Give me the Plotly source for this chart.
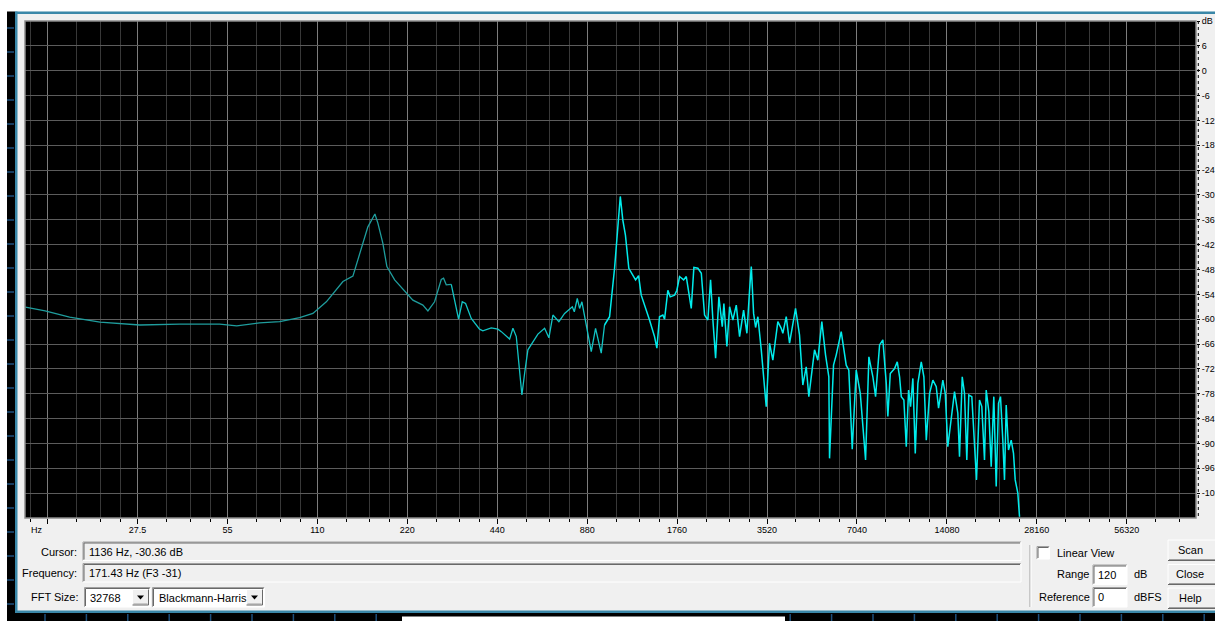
import numpy as np
import plotly.graph_objects as go

# ---- spectrum data: frequency (Hz) and level (dB) ----
freq_hz = [
    11.6, 13.5, 16.3, 20.6, 28.0, 38.1, 51.8, 59.1, 70.5, 82.3,
    96.0, 106.3, 117.9, 134.0, 144.7, 152.4, 162.4, 171.43, 175.4, 182.3,
    188.0, 199.6, 218.3, 229.7, 248.1, 257.9, 271.5, 285.9, 291.0, 297.1,
    308.8, 316.8, 326.7, 336.1, 344.8, 360.2, 384.0, 393.9, 420.2, 442.4,
    454.1, 484.1, 496.6, 509.7, 520.0, 532.2, 543.4, 557.4, 602.1, 634.0,
    655.3, 675.8, 707.8, 739.6, 784.8, 797.0, 815.6, 830.3, 845.1, 908.3,
    938.9, 980.9, 1006, 1046, 1087, 1136, 1158, 1182, 1213, 1278,
    1308, 1335, 1423, 1479, 1506, 1537, 1577, 1598, 1639, 1669,
    1726, 1757, 1794, 1851, 1889, 1963, 2003, 2066, 2121, 2175,
    2231, 2278, 2319, 2368, 2429, 2493, 2524, 2583, 2638, 2705,
    2777, 2849, 2938, 3014, 3077, 3118, 3174, 3223, 3280, 3367,
    3498, 3588, 3681, 3729, 3826, 3927, 3976, 4081, 4187, 4385,
    4521, 4638, 4761, 4858, 5076, 5207, 5369, 5525, 5667, 5698,
    5876, 6000, 6235, 6480, 6611, 6787, 6999, 7222, 7522, 7717,
    7958, 8125, 8380, 8595, 8823, 8932, 9099, 9405, 9603, 9776,
    9905, 10105, 10293, 10478, 10640, 10830, 11032, 11256, 11554, 11789,
    12009, 12319, 12635, 12970, 13202, 13645, 13900, 14178, 14555, 14929,
    15313, 15516, 15843, 16124, 16413, 16668, 17058, 17417, 17687, 18099,
    18424, 18811, 19060, 19446, 19808, 20209, 20585, 20954, 21279, 21659,
    21945, 22235, 22634, 23108, 23522, 23832, 24316, 24638,
]
level_db = [
    -57.1, -58.0, -59.5, -60.7, -61.4, -61.2, -61.2, -61.6, -60.9, -60.6,
    -59.6, -58.6, -55.8, -50.9, -49.6, -44.5, -37.7, -34.6, -36.8, -41.7,
    -47.3, -50.5, -53.7, -55.4, -56.6, -58.0, -55.8, -50.4, -50.1, -51.7,
    -51.6, -55.4, -60.0, -55.8, -56.2, -59.8, -62.4, -62.8, -62.1, -62.4,
    -63.0, -64.8, -62.2, -64.2, -70.6, -78.3, -73.1, -67.4, -63.6, -62.2,
    -64.5, -59.0, -60.6, -58.6, -57.0, -58.2, -55.0, -57.4, -55.8, -67.8,
    -62.2, -68.2, -61.4, -59.4, -47.7, -30.36, -36.0, -39.7, -47.7, -50.5,
    -49.5, -54.2, -60.2, -64.2, -67.0, -59.4, -59.0, -60.0, -53.0, -54.6,
    -54.2, -53.0, -49.7, -50.5, -49.7, -57.4, -47.5, -47.7, -48.9, -59.0,
    -60.2, -50.5, -60.2, -69.4, -54.6, -61.8, -56.2, -66.6, -57.0, -60.2,
    -56.6, -64.2, -57.8, -63.4, -53.0, -47.3, -58.6, -62.0, -59.4, -67.4,
    -81.1, -65.8, -69.9, -66.6, -60.6, -62.2, -63.4, -59.4, -65.8, -57.4,
    -63.8, -75.9, -71.5, -78.7, -67.4, -69.9, -60.6, -68.6, -73.9, -93.6,
    -71.1, -68.6, -63.0, -71.1, -72.3, -91.4, -72.3, -77.9, -94.0, -69.1,
    -73.9, -78.7, -66.2, -65.0, -75.5, -83.5, -73.1, -71.9, -70.3, -73.9,
    -78.7, -79.5, -90.8, -77.1, -81.1, -74.3, -92.4, -75.5, -70.3, -73.9,
    -89.2, -77.9, -74.7, -76.3, -81.5, -74.7, -77.9, -90.8, -84.3, -77.5,
    -82.7, -93.2, -73.9, -77.9, -94.0, -78.3, -78.7, -89.6, -98.8, -79.5,
    -81.1, -94.0, -77.1, -82.3, -95.6, -78.7, -100.4, -80.3, -78.7, -89.2,
    -98.8, -80.7, -91.6, -89.2, -92.4, -98.8, -102.0, -107.7,
]

# ---- axis ticks ----
octave_hz = [13.75, 27.5, 55, 110, 220, 440, 880, 1760, 3520, 7040, 14080, 28160, 56320]
octave_text = ["", "27.5", "55", "110", "220", "440", "880", "1760", "3520",
               "7040", "14080", "28160", "56320"]
db_ticks = [12, 6, 0, -6, -12, -18, -24, -30, -36, -42, -48, -54, -60, -66,
            -72, -78, -84, -90, -96, -102]
db_text = ["dB", "6", "0", "-6", "-12", "-18", "-24", "-30", "-36", "-42", "-48",
           "-54", "-60", "-66", "-72", "-78", "-84", "-90", "-96", "-102"]

# ---- dialog readouts ----
cursor_text = "1136 Hz, -30.36 dB"
frequency_text = "171.43 Hz (F3 -31)"
fft_size = "32768"
window_name = "Blackmann-Harris"
range_db = "120"
reference_dbfs = "0"

W, H = 1215, 621
PL, PR, PT, PB = 25, 1196, 21, 518          # plot area in pixels
FONT = "Liberation Sans, Arial, sans-serif"


def fx(x):
    return (x - PL) / (PR - PL)


def fy(y):
    return (PB - y) / (PB - PT)


shapes = []
annotations = []


def rect(x0, y0, x1, y1, fill="rgba(0,0,0,0)", line=None, lw=1):
    shapes.append(dict(type="rect", xref="paper", yref="paper",
                       x0=fx(x0), x1=fx(x1), y0=fy(y1), y1=fy(y0),
                       fillcolor=fill,
                       line=dict(color=line or "rgba(0,0,0,0)", width=lw if line else 0),
                       layer="above"))


def seg(x0, y0, x1, y1, color, lw=1, dash="solid"):
    shapes.append(dict(type="line", xref="paper", yref="paper",
                       x0=fx(x0), x1=fx(x1), y0=fy(y0), y1=fy(y1),
                       line=dict(color=color, width=lw, dash=dash), layer="above"))


def sunken(x0, y0, x1, y1, fill):
    rect(x0, y0, x1, y1, fill=fill)
    seg(x0, y0, x1, y0, "#a0a0a0")
    seg(x0, y0, x0, y1, "#a0a0a0")
    seg(x0 + 1, y0 + 1, x1 - 1, y0 + 1, "#696969")
    seg(x0 + 1, y0 + 1, x0 + 1, y1 - 1, "#696969")
    seg(x0, y1, x1, y1, "#ffffff")
    seg(x1, y0, x1, y1, "#ffffff")


def raised(x0, y0, x1, y1, fill="#f0f0f0"):
    rect(x0, y0, x1, y1, fill=fill)
    seg(x0, y0, x1, y0, "#ffffff")
    seg(x0, y0, x0, y1, "#ffffff")
    seg(x0, y1, x1, y1, "#696969")
    seg(x1, y0, x1, y1, "#696969")
    seg(x0 + 1, y1 - 1, x1 - 1, y1 - 1, "#a0a0a0")


def text(x, y, s, anchor="left", size=11):
    annotations.append(dict(x=fx(x), y=fy(y), xref="paper", yref="paper", text=s,
                            showarrow=False, xanchor=anchor, yanchor="middle",
                            font=dict(family=FONT, size=size, color="#000000")))


def arrow(cx, cy):
    x0, x1, xm = fx(cx - 3.5), fx(cx + 3.5), fx(cx)
    ya, yb = fy(cy - 2), fy(cy + 2)
    shapes.append(dict(type="path", xref="paper", yref="paper",
                       path=f"M {x0} {ya} L {x1} {ya} L {xm} {yb} Z",
                       fillcolor="#000000", line=dict(width=0), layer="above"))


# ---- window chrome ----
rect(0, 0, W, 11.5, fill="#ffffff")
rect(0, 0, 7, H, fill="#ffffff")
rect(7, 11.5, 15, H, fill="#000000")
rect(7, 613, W, H, fill="#000000")
rect(402, 616.5, 785, H, fill="#ffffff")
for k in range(25):
    yb = 28 + 24.0 * k
    if yb < 612:
        seg(7, yb, 14, yb, "#1d4f7c", lw=1.5)
for k in range(30):
    xb = 45 + 41.4 * k
    if 17 < xb < 400 or 785 < xb < W:
        seg(xb, 614, xb, H, "#1d4f7c", lw=1.5)
rect(15, 11.5, 17.5, 613, fill="#3a87a8")
rect(15, 11.5, W, 14, fill="#3a87a8")
rect(15, 610.5, W, 613, fill="#3a87a8")

# plot frame and dB scale rule
rect(PL, PT, PR, PB, line="#8c8c8c", lw=1.5)
seg(1198.3, PT, 1198.3, PB, "#000000", lw=1, dash="dot")
text(28.5, 529.5, "Hz", size=9)

# ---- readout fields ----
text(79, 552, "Cursor:", anchor="right")
sunken(83, 542, 1021, 560.5, "#f0f0f0")
text(87, 551.5, cursor_text)
text(79, 573, "Frequency:", anchor="right")
sunken(83, 563.5, 1021, 582, "#f0f0f0")
text(87, 573, frequency_text)

text(80, 597.5, "FFT Size:", anchor="right")
sunken(84.5, 587.5, 150.5, 607, "#ffffff")
text(88, 598, fft_size)
raised(132.5, 589.5, 148.5, 605)
arrow(140.5, 597.5)
sunken(152.5, 587.5, 264.5, 607, "#ffffff")
text(156.5, 598, window_name)
raised(246.5, 589.5, 262.5, 605)
arrow(254.5, 597.5)

# ---- view options ----
seg(1030, 545, 1030, 607, "#a0a0a0")
seg(1031, 545, 1031, 607, "#ffffff")
sunken(1037, 546.5, 1049.5, 559, "#ffffff")
text(1055, 552.5, "Linear View")
text(1055, 574, "Range")
sunken(1093, 565, 1127, 584.5, "#ffffff")
text(1095.5, 574.5, range_db)
text(1132, 574, "dB")
text(1036.5, 597.5, "Reference")
sunken(1093, 587.5, 1127, 607, "#ffffff")
text(1095.5, 597.5, reference_dbfs)
text(1132, 597.5, "dBFS")

raised(1168, 540, 1222, 560.5)
text(1190, 549.5, "Scan", anchor="center")
raised(1168, 564.5, 1222, 584.5)
text(1190, 574, "Close", anchor="center")
raised(1168, 588, 1222, 608.5)
text(1190, 598, "Help", anchor="center")

# ---- spectrum trace ----
fig = go.Figure()
f = np.array(freq_hz)
v = np.array(level_db)
bands = [(0, 300, "#1f9d9d", 1.3), (300, 1000, "#12c4c4", 1.3), (1000, 1e6, "#00ecec", 1.5)]
for lo, hi, col, lw in bands:
    idx = np.where((f >= lo) & (f < hi))[0]
    i0, i1 = idx[0], min(idx[-1] + 1, len(f) - 1)
    fig.add_trace(go.Scatter(x=f[i0:i1 + 1], y=v[i0:i1 + 1], mode="lines",
                             line=dict(color=col, width=lw),
                             hoverinfo="skip", showlegend=False))

minor_hz = [b * m for b in [6.875 * 2 ** k for k in range(15)] for m in (1.25, 1.5, 1.75)]
minor_hz = [m for m in minor_hz if 11.6 < m < 96000]

fig.update_layout(
    width=W, height=H,
    margin=dict(l=PL, r=W - PR, t=PT, b=H - PB, pad=0),
    paper_bgcolor="#f0f0f0",
    plot_bgcolor="#000000",
    shapes=shapes,
    annotations=annotations,
    showlegend=False,
    xaxis=dict(
        type="log",
        range=[np.log10(11.56), np.log10(96000)],
        tickmode="array", tickvals=octave_hz, ticktext=octave_text,
        showgrid=True, gridcolor="#7d7d7d", gridwidth=1,
        ticks="outside", ticklen=5, tickwidth=1, tickcolor="#000000",
        ticklabelstandoff=-2,
        tickfont=dict(family=FONT, size=9, color="#000000"),
        minor=dict(tickmode="array", tickvals=minor_hz, showgrid=True,
                   gridcolor="#383838", gridwidth=1, ticks="outside",
                   ticklen=3, tickcolor="#000000"),
        showline=False, zeroline=False, automargin=False, fixedrange=True,
    ),
    yaxis=dict(
        side="right",
        range=[-108, 12],
        tickmode="array", tickvals=db_ticks, ticktext=db_text,
        showgrid=True, gridcolor="#5c5c5c", gridwidth=1,
        ticks="outside", ticklen=3, tickwidth=1, tickcolor="#000000",
        tickfont=dict(family=FONT, size=9, color="#000000"),
        showline=False, zeroline=False, automargin=False, fixedrange=True,
    ),
)

fig.write_html("out.html")
